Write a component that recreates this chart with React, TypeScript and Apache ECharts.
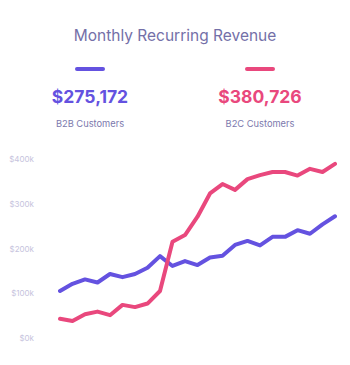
import React, { useEffect, useRef } from "react";
import * as echarts from "echarts";

const months = ["1","2","3","4","5","6","7","8","9","10","11","12","13","14","15","16","17","18","19","20","21","22","23"];
const b2b = [105,121,131,124,143,136,143,157,183,161,172,163,180,184,208,217,207,226,226,241,233,254,272].map(v => v * 1000);
const b2c = [43,38,53,59,51,74,69,77,105,215,230,271,323,344,331,355,364,371,371,363,378,371,389].map(v => v * 1000);
const yTicks = [0, 100000, 200000, 300000, 400000];

const PURPLE = "#6452E0";
const PINK = "#E9487D";

export default function App() {
  const ref = useRef<HTMLDivElement>(null);
  useEffect(() => {
    const chart = echarts.init(ref.current!, null, { renderer: "svg" });
    chart.setOption({
      animation: false,
      backgroundColor: "#ffffff",
      title: {
        text: "Monthly Recurring Revenue",
        left: "center",
        top: 22,
        textStyle: { fontFamily: "Inter", fontSize: 15.5, fontWeight: 400, color: "#7470A8" },
      },
      graphic: [
        { type: "rect", shape: { x: 75, y: 67, width: 30, height: 4, r: 2 }, style: { fill: PURPLE } },
        { type: "rect", shape: { x: 245, y: 67, width: 30, height: 4, r: 2 }, style: { fill: PINK } },
        { type: "text", x: 90, y: 96, style: { text: "$275,172", fill: PURPLE, font: "bold 17.5px Inter", textAlign: "center", textVerticalAlign: "middle" } },
        { type: "text", x: 260, y: 96, style: { text: "$380,726", fill: PINK, font: "bold 17.5px Inter", textAlign: "center", textVerticalAlign: "middle" } },
        { type: "text", x: 90, y: 123, style: { text: "B2B Customers", fill: "#7C79AD", font: "9.3px Inter", textAlign: "center", textVerticalAlign: "middle" } },
        { type: "text", x: 260, y: 123, style: { text: "B2C Customers", fill: "#7C79AD", font: "9.3px Inter", textAlign: "center", textVerticalAlign: "middle" } },
      ],
      grid: { left: 60, right: 15, top: 159, bottom: 27 },
      xAxis: {
        type: "category",
        data: months,
        boundaryGap: false,
        show: false,
      },
      yAxis: {
        type: "value",
        min: 0,
        max: 400000,
        interval: 100000,
        splitLine: { show: false },
        axisLine: { show: false },
        axisTick: { show: false },
        axisLabel: {
          margin: 26,
          fontFamily: "Inter",
          fontSize: 8,
          color: "#C6C3DD",
          formatter: (v: number) => (yTicks.includes(v) ? "$" + v / 1000 + "k" : ""),
        },
      },
      series: [
        {
          type: "line",
          data: b2b,
          showSymbol: false,
          lineStyle: { color: PURPLE, width: 4, cap: "round", join: "round" },
          itemStyle: { color: PURPLE },
        },
        {
          type: "line",
          data: b2c,
          showSymbol: false,
          lineStyle: { color: PINK, width: 4, cap: "round", join: "round" },
          itemStyle: { color: PINK },
        },
      ],
    });
    return () => chart.dispose();
  }, []);
  return <div ref={ref} style={{ width: 350, height: 365, position: "absolute", left: 0, top: 0 }} />;
}
